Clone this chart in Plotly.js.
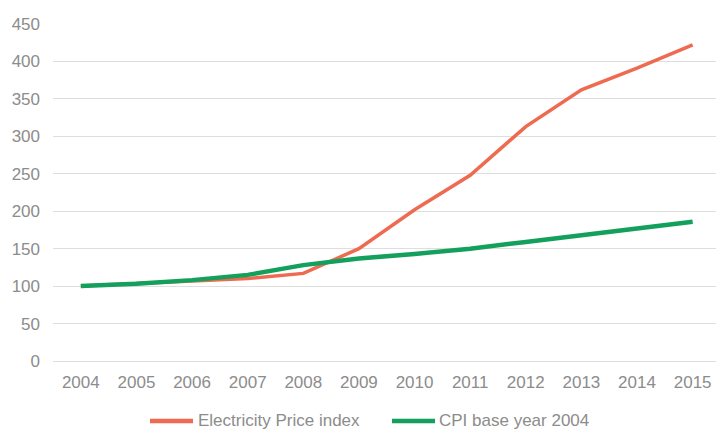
<!DOCTYPE html>
<html>
<head>
<meta charset="utf-8">
<script src="https://cdn.plot.ly/plotly-3.0.1.min.js"></script>
<style>
  html, body { margin: 0; padding: 0; background: #ffffff; }
  #chart { width: 716px; height: 433px; }
</style>
</head>
<body>
<div id="chart"></div>
<script>
// Years on the category axis
const years = ['2004', '2005', '2006', '2007', '2008', '2009',
               '2010', '2011', '2012', '2013', '2014', '2015'];

// Index values, 2004 = 100
const electricityPrice = [100, 103, 106, 110, 117, 150, 202, 248, 313, 362, 391, 422];
const cpi = [100, 103, 108, 115, 128, 137, 143, 150, 159, 168, 177, 186];

const yTicks = [0, 50, 100, 150, 200, 250, 300, 350, 400, 450];

const seriesNames = ['Electricity Price index', 'CPI base year 2004'];
const seriesColors = ['#ee6a50', '#13a05c'];
const seriesWidths = [3.5, 4.5];

const fontFamily = '"Liberation Sans", Arial, sans-serif';
const textColor = '#8c8c8c';
const axisFont = { family: fontFamily, size: 17, color: textColor };

const seriesValues = [electricityPrice, cpi];
const traces = seriesValues.map((vals, i) => ({
  x: years,
  y: vals,
  name: seriesNames[i],
  type: 'scatter',
  mode: 'lines',
  line: { color: seriesColors[i], width: seriesWidths[i] }
}));

// Legend below the axis: a short coloured stroke followed by its label
const legendY = -0.178;
const legendItems = [
  { x0: 0.1463, x1: 0.2112, tx: 0.2157 },
  { x0: 0.5113, x1: 0.5762, tx: 0.5792 }
];
const shapes = legendItems.map((it, i) => ({
  type: 'line', xref: 'paper', yref: 'paper',
  x0: it.x0, x1: it.x1, y0: legendY, y1: legendY,
  line: { color: seriesColors[i], width: 4.5 }
}));
const annotations = legendItems.map((it, i) => ({
  xref: 'paper', yref: 'paper',
  x: it.tx, y: legendY, xanchor: 'left', yanchor: 'middle',
  text: seriesNames[i], showarrow: false,
  font: { family: fontFamily, size: 17, color: textColor }
}));

const layout = {
  width: 716,
  height: 433,
  margin: { l: 53, r: 0, t: 24, b: 72 },
  paper_bgcolor: '#ffffff',
  plot_bgcolor: '#ffffff',
  showlegend: false,
  shapes: shapes,
  annotations: annotations,
  xaxis: {
    type: 'category',
    range: [-0.5, 11.42],
    showgrid: false,
    zeroline: false,
    showline: false,
    ticks: '',
    tickfont: axisFont,
    ticklabelstandoff: 9
  },
  yaxis: {
    range: [0, 450],
    tickvals: yTicks,
    ticktext: yTicks.map(String),
    showgrid: true,
    gridcolor: '#dedede',
    gridwidth: 1,
    zeroline: true,
    zerolinecolor: '#dedede',
    zerolinewidth: 1,
    showline: false,
    ticks: '',
    tickfont: axisFont,
    ticklabelstandoff: 12
  }
};

Plotly.newPlot('chart', traces, layout, { displayModeBar: false, staticPlot: true });
</script>
</body>
</html>
